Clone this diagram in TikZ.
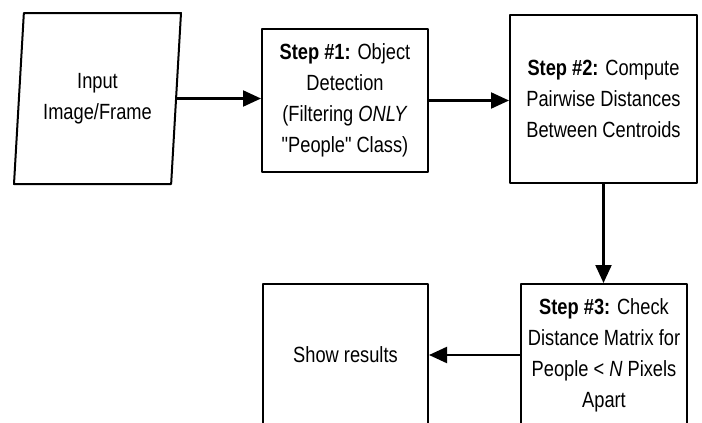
\documentclass[tikz,border=0pt]{standalone}
\usepackage{fontspec}
\setmainfont{Liberation Sans}[FakeStretch=0.83, Ligatures=TeXOff]
\usetikzlibrary{arrows.meta,shapes.geometric}
\begin{document}
\begin{tikzpicture}[x=1pt, y=1pt, line join=round, line width=2pt,
	box/.style={draw, rectangle, align=center, inner sep=0pt, font=\fontsize{22}{31}\selectfont},
	arr/.style={-{Triangle[length=18pt,width=16pt]}, line width=2.2pt}]
		\useasboundingbox (0,0) rectangle (702,-423);
		\def\w{166}	\def\h{143}
		\node[box, trapezium, trapezium left angle=79, trapezium right angle=101, trapezium stretches body, minimum width=167, minimum height=171] (in) at (97.5,-98.5) {Input\\Image/Frame};
		\node[box, minimum width=\w, minimum height=\h] (s1) at (345,-100.5) {\textbf{Step \#1:} Object\\Detection\\(Filtering \textit{ONLY}\\"People" Class)};
		\node[box, minimum width=187, minimum height=168] (s2) at (603.5,-99) {\textbf{Step \#2:} Compute\\Pairwise Distances\\Between Centroids};
		\node[box, minimum width=\w, minimum height=142] (s3) at (604,-355) {\textbf{Step \#3:} Check\\Distance Matrix for\\People < \textit{N} Pixels\\Apart};
		\node[box, minimum width=165, minimum height=142] (res) at (345.5,-355) {Show results};
		%arrows
		\draw[arr] (in.east) -- (in.east -| s1.west);
		\draw[arr] (s1.east) -- (s1.east -| s2.west);
		\draw[arr] (s2.south) -- (s2.south |- s3.north);
		\draw[arr] (s3.west) -- (res.east);
	\end{tikzpicture}
\end{document}
